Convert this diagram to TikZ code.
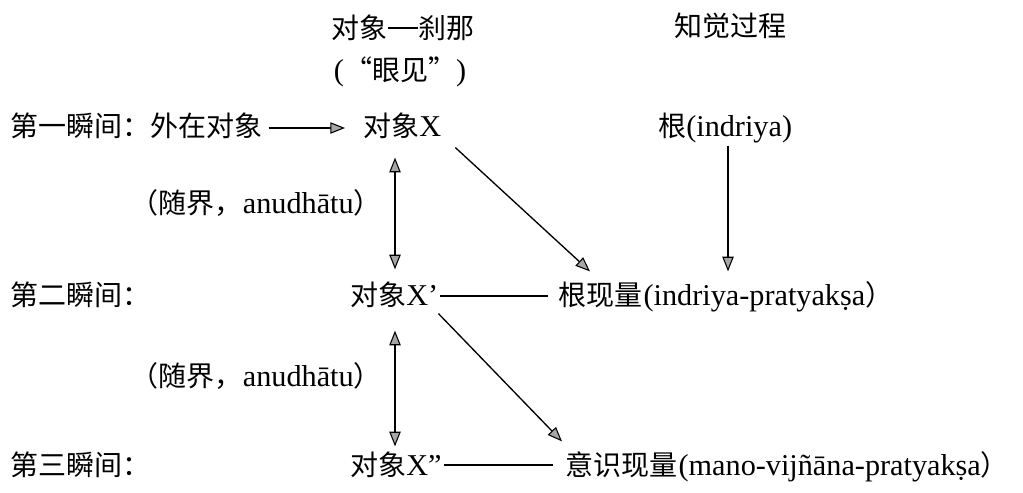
\documentclass[tikz,border=0pt]{standalone}
\usepackage{fontspec}
\setmainfont{Liberation Serif}[Scale=1.08]
\newfontfamily\cjk{Noto Sans CJK SC}
\usetikzlibrary{arrows.meta,calc}
\tikzset{hd/.tip={Triangle[length=11pt,width=8.5pt,fill=gray!70,line width=0.8pt]}}
\begin{document}
\begin{tikzpicture}[x=0.75pt,y=-0.75pt,
  txt/.style={inner sep=0pt,text height=17pt,text depth=4.5pt,font=\fontsize{21}{23}\selectfont},
  tip/.style={-{hd},line width=1pt},
  dtip/.style={{hd}-{hd},line width=1pt},
  ln/.style={line width=1pt}]
\useasboundingbox (0,0) rectangle (1023,492);
\node[txt] (t1) at (403,30) {{\cjk 对象}\rule[0.3em]{1em}{0.07em}{\cjk 刹那}};
\node[txt] (t2) at (400,72) {({\cjk “眼见”})};
\node[txt] (t3) at (730,28) {\cjk 知觉过程};
\node[txt,anchor=west] (r1) at (10,128) {\cjk 第一瞬间：外在对象};
\node[txt,anchor=west] (x1) at (363,128) {{\cjk 对象}X};
\node[txt,anchor=west] (g) at (658,128) {{\cjk 根}(indriya)};
\node[txt,anchor=west] (r2) at (10,297) {\cjk 第二瞬间：};
\node[txt,anchor=west] (x2) at (350,297) {{\cjk 对象}X’};
\node[txt,anchor=west] (gx) at (558,297) {{\cjk 根现量}\kern1pt(indriya-pratyakṣa{\cjk ）}};
\node[txt,anchor=west] (r3) at (10,467) {\cjk 第三瞬间：};
\node[txt,anchor=west] (x3) at (350,467) {{\cjk 对象}X”};
\node[txt,anchor=west] (yx) at (565,467) {{\cjk 意识现量}\kern1pt(mano-vijñāna-pratyakṣa{\cjk ）}};
\node[txt,anchor=east] (l1) at (382,205) {{\cjk （随界，}anudhātu{\cjk ）}};
\node[txt,anchor=east] (l2) at (382,378) {{\cjk （随界，}anudhātu{\cjk ）}};
\coordinate (v) at (395,0);
\coordinate (gv) at (728,0);
\draw[tip] ($(r1.east)+(6,0)$) -- ($(x1.west)+(-18,0)$);
\draw[dtip] ($(x1.south -| v)+(0,15)$) -- ($(x2.north -| v)+(0,-13)$);
\draw[dtip] ($(x2.south -| v)+(0,19)$) -- ($(x3.north -| v)+(0,-6)$);
\draw[tip] ($(x1.south east)+(14,5)$) -- ($(gx.north west)+(32,-11)$);
\draw[tip] ($(x2.south east)+(0,2)$) -- ($(yx.north west)+(-3,-11)$);
\draw[tip] ($(g.south -| gv)+(0,3)$) -- ($(gx.north -| gv)+(0,-11)$);
\draw[ln] ($(x2.east)+(2,-1)$) -- ($(gx.west)+(-10,-1)$);
\draw[ln] ($(x3.east)+(2,-2)$) -- ($(yx.west)+(-12,-2)$);
\end{tikzpicture}
\end{document}
